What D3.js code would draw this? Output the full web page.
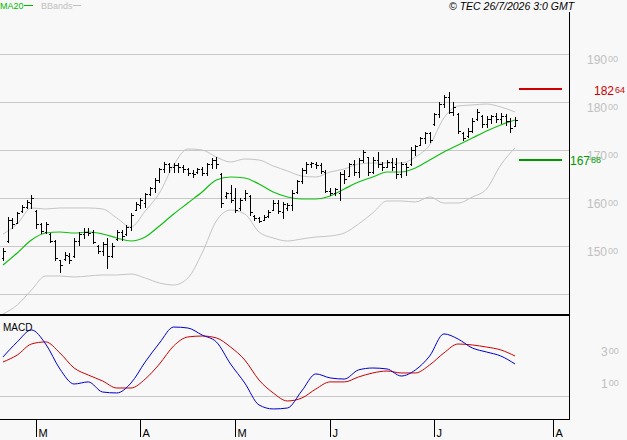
<!DOCTYPE html>
<html lang="en">
<head>
<meta charset="UTF-8">
<title>Index daily bars with MA20, Bollinger bands and MACD</title>
<script src="https://d3js.org/d3.v7.min.js"></script>
<style>
  body { margin: 0; background: #f8f8f8; }
  svg { display: block; font-family: "Liberation Sans", Arial, sans-serif; }
</style>
</head>
<body>
<div id="chart"></div>
<script>
// daily bars, 19 Feb .. 24 Jul
const highs = [14960,15610,15580,15710,15855,15960,16060,15750,15480,15500,
  15270,15125,14710,14875,14855,15165,15290,15375,15375,15335,
  15020,15085,15165,15060,15335,15335,15440,15690,15915,16000,
  16105,16230,16415,16625,16750,16730,16730,16730,16690,16625,
  16585,16625,16645,16730,16835,16855,16520,16125,16270,16210,
  16000,16165,16065,15645,15605,15645,15750,15960,15960,15915,
  15895,16165,16375,16625,16750,16750,16750,16730,16585,16210,
  16210,16540,16585,16730,16790,16835,17000,16855,16855,16960,
  16750,16790,16835,16835,16750,16730,17065,17105,17270,17375,
  17375,17770,18000,18145,18210,18000,17770,17375,17460,17665,
  17855,17730,17710,17730,17770,17770,17750,17665,17690];
const lows = [14710,15080,15375,15480,15710,15790,15790,15375,15270,15270,
  15080,14710,14460,14710,14645,14770,15020,15165,15230,15060,
  14855,14810,14540,14770,15125,15125,15230,15335,15750,15790,
  15815,16060,16125,16335,16540,16540,16540,16540,16540,16480,
  16440,16520,16480,16480,16625,16625,15815,16000,15915,15710,
  15750,15960,15645,15540,15500,15540,15605,15750,15690,15585,
  15750,15750,16105,16315,16520,16645,16625,16520,16125,16065,
  16065,15960,16315,16480,16480,16440,16750,16480,16520,16645,
  16585,16645,16585,16415,16440,16480,16690,16895,17105,17145,
  17165,17520,17690,17895,17770,17730,17355,17210,17270,17375,
  17625,17480,17480,17565,17585,17565,17520,17375,17520];
const opens = [14750,15100,15550,15480,15720,15820,15900,15720,15450,15300,
  15250,15100,14700,14720,14800,14800,15100,15250,15300,15300,
  15000,14900,15050,14800,15150,15300,15250,15400,15760,15850,
  15900,16080,16200,16380,16600,16700,16650,16680,16650,16600,
  16520,16550,16600,16520,16700,16800,16500,16050,16100,16000,
  15800,16000,16050,15620,15580,15550,15620,15760,15900,15700,
  15800,15850,16120,16350,16580,16700,16700,16680,16550,16150,
  16100,16100,16500,16450,16700,16550,16800,16850,16550,16800,
  16700,16650,16750,16700,16500,16700,16700,17000,17100,17250,
  17350,17550,17750,17950,18100,17800,17750,17350,17300,17400,
  17650,17700,17550,17650,17700,17650,17700,17600,17500];
const closes = [14900,15550,15450,15680,15820,15920,16000,15450,15320,15450,
  15100,14750,14600,14820,14700,15100,15250,15300,15280,15080,
  14900,15050,14800,15000,15300,15200,15400,15650,15880,15950,
  16080,16200,16380,16600,16700,16650,16680,16650,16600,16520,
  16500,16600,16520,16700,16800,16700,15900,16100,15950,15750,
  15950,16100,15700,15580,15520,15600,15700,15900,15720,15880,
  15850,16100,16350,16580,16700,16720,16680,16560,16150,16100,
  16180,16500,16400,16700,16550,16800,16950,16550,16800,16700,
  16650,16750,16650,16500,16700,16650,17000,17080,17250,17350,
  17200,17750,17950,18100,17800,17900,17400,17250,17400,17600,
  17800,17550,17650,17700,17650,17700,17600,17450,17620];

// indicators read every 3rd bar
const sampleStep = 3;
const ma20 = [14604,14854,15125,15271,15292,15271,15292,15250,15167,15104,
  15188,15417,15667,15896,16125,16375,16438,16417,16292,16125,
  16021,15979,15979,16042,16188,16333,16438,16542,16542,16625,
  16792,16958,17104,17250,17396,17521,17625];
const bbUpper = [15250,15458,15792,15771,15792,15792,15792,15771,15583,15396,
  15729,16104,16688,17021,17000,16854,16750,16813,16792,16667,
  16563,16458,16438,16542,16604,16708,16729,16729,16729,16854,
  17104,17667,17917,17938,17958,17896,17792];
const bbLower = [13583,13771,14083,14375,14375,14354,14375,14396,14396,14417,
  14333,14229,14188,14333,14854,15521,15750,15667,15292,15167,
  15104,15146,15188,15208,15271,15458,15688,15938,15938,15917,
  16021,15896,15896,16021,16188,16688,17042];
const macdLine = [244,338,413,325,169,75,88,25,19,81,
  213,331,431,425,381,338,200,81,-56,-81,
  -75,31,138,113,106,163,175,169,125,163,
  250,388,356,300,275,250,200];
const signalLine = [213,256,325,338,269,175,131,94,50,50,
  106,200,313,369,375,363,306,225,100,19,
  -31,-13,44,88,88,119,144,156,144,144,
  194,269,325,319,306,288,250];

const monthLabels = ["M", "A", "M", "J", "J", "A"];
const monthStartBars = [7, 29, 49, 69, 91, 116];
const priceGrid = [14000, 15000, 16000, 17000, 18000, 19000];
const priceLabels = [15000, 16000, 17000, 18000, 19000];
const macdLabels = [100, 300];
const resistance = 18264;
const support = 16788;

const width = 627, height = 440;
const plotRight = 569;

const svg = d3.select("#chart").append("svg")
    .attr("width", width)
    .attr("height", height);

const x = d3.scaleLinear().domain([0, highs.length - 1]).range([3, 515]);
const y = d3.scaleLinear().domain([14000, 19000]).range([294, 54]);
const ym = d3.scaleLinear().domain([0, 300]).range([396, 348]);

const px = v => Math.round(v) + 0.5;

// grid
svg.append("g").selectAll("line")
    .data(priceGrid)
    .enter().append("line")
    .attr("x1", 0).attr("x2", plotRight)
    .attr("y1", d => px(y(d))).attr("y2", d => px(y(d)))
    .attr("stroke", "#c8c8c8")
    .attr("shape-rendering", "crispEdges");

svg.append("line")
    .attr("x1", 0).attr("x2", plotRight)
    .attr("y1", px(ym(0))).attr("y2", px(ym(0)))
    .attr("stroke", "#c8c8c8")
    .attr("shape-rendering", "crispEdges");

// price labels: big part + small raised last two digits
function splitLabel(g, v, xPos, yTop, color) {
    const s = String(v);
    const t = g.append("text")
        .attr("x", xPos)
        .attr("y", yTop + 9)
        .attr("fill", color)
        .attr("font-size", 12);
    t.append("tspan").text(s.slice(0, -2));
    t.append("tspan")
        .attr("font-size", 9)
        .attr("dy", -2)
        .attr("dx", 1)
        .text(s.slice(-2));
}

const labels = svg.append("g");
priceLabels.forEach(v => splitLabel(labels, v, 587, y(v) + 1, "#c0c0c0"));
macdLabels.forEach(v => splitLabel(labels, v, 601, ym(v) - 1, "#c0c0c0"));
splitLabel(labels, resistance, 594, y(resistance) - 3, "#cc0000");
splitLabel(labels, support, 570, y(support) - 4, "#009900");

// support / resistance lines
svg.append("line")
    .attr("x1", 519).attr("x2", 562)
    .attr("y1", Math.round(y(resistance))).attr("y2", Math.round(y(resistance)))
    .attr("stroke", "#cc0000").attr("stroke-width", 2)
    .attr("shape-rendering", "crispEdges");
svg.append("line")
    .attr("x1", 519).attr("x2", 562)
    .attr("y1", Math.round(y(support))).attr("y2", Math.round(y(support)))
    .attr("stroke", "#009900").attr("stroke-width", 2)
    .attr("shape-rendering", "crispEdges");

// bollinger + ma
const lineOf = (scale) => d3.line()
    .x((d, k) => x(k * sampleStep))
    .y(d => scale(d))
    .curve(d3.curveMonotoneX);

svg.append("path").attr("d", lineOf(y)(bbUpper))
    .attr("fill", "none").attr("stroke", "#c4c4c4");
svg.append("path").attr("d", lineOf(y)(bbLower))
    .attr("fill", "none").attr("stroke", "#c4c4c4");
svg.append("path").attr("d", lineOf(y)(ma20))
    .attr("fill", "none").attr("stroke", "#10c010").attr("stroke-width", 1.2);

// OHLC bars
const bars = svg.append("g")
    .attr("stroke", "#000")
    .attr("shape-rendering", "crispEdges");
highs.forEach((h, i) => {
    const bx = px(x(i));
    bars.append("line")
        .attr("x1", bx).attr("x2", bx)
        .attr("y1", Math.round(y(h))).attr("y2", Math.round(y(lows[i])) + 1)
        .attr("stroke-width", 1.5);
    bars.append("line")
        .attr("x1", bx - 2).attr("x2", bx)
        .attr("y1", px(y(opens[i]))).attr("y2", px(y(opens[i])));
    bars.append("line")
        .attr("x1", bx).attr("x2", bx + 2)
        .attr("y1", px(y(closes[i]))).attr("y2", px(y(closes[i])));
});

// MACD
svg.append("path").attr("d", lineOf(ym)(signalLine))
    .attr("fill", "none").attr("stroke", "#cc0000");
svg.append("path").attr("d", lineOf(ym)(macdLine))
    .attr("fill", "none").attr("stroke", "#0000cc");

// frame
svg.append("line")
    .attr("x1", 0).attr("x2", plotRight + 1)
    .attr("y1", 315).attr("y2", 315)
    .attr("stroke", "#000").attr("stroke-width", 2)
    .attr("shape-rendering", "crispEdges");
svg.append("line")
    .attr("x1", 0).attr("x2", plotRight)
    .attr("y1", 419.5).attr("y2", 419.5)
    .attr("stroke", "#000")
    .attr("shape-rendering", "crispEdges");
svg.append("line")
    .attr("x1", plotRight + 0.5).attr("x2", plotRight + 0.5)
    .attr("y1", 12).attr("y2", 420)
    .attr("stroke", "#000")
    .attr("shape-rendering", "crispEdges");

// month ticks
const ticks = svg.append("g").selectAll("g")
    .data(monthStartBars)
    .enter().append("g")
    .attr("transform", d => "translate(" + px(x(d)) + ",0)");
ticks.append("line")
    .attr("y1", 420).attr("y2", 437)
    .attr("stroke", "#000")
    .attr("shape-rendering", "crispEdges");
ticks.append("text")
    .attr("x", 2).attr("y", 437)
    .attr("font-size", 11)
    .text((d, i) => monthLabels[i]);

// legend + captions
svg.append("text").attr("x", 0).attr("y", 9)
    .attr("font-size", 9).attr("fill", "#00bb00").text("MA20");
svg.append("line").attr("x1", 24).attr("x2", 33).attr("y1", 5.5).attr("y2", 5.5)
    .attr("stroke", "#00bb00");
svg.append("text").attr("x", 41).attr("y", 9)
    .attr("font-size", 9).attr("fill", "#c0c0c0").text("BBands");
svg.append("line").attr("x1", 73).attr("x2", 81).attr("y1", 5.5).attr("y2", 5.5)
    .attr("stroke", "#c0c0c0");
svg.append("text").attr("x", 449).attr("y", 10)
    .attr("font-size", 10.5).attr("font-style", "italic")
    .text("\u00a9 TEC 26/7/2026 3:0 GMT");
svg.append("text").attr("x", 3).attr("y", 331)
    .attr("font-size", 10).text("MACD");
</script>
</body>
</html>
